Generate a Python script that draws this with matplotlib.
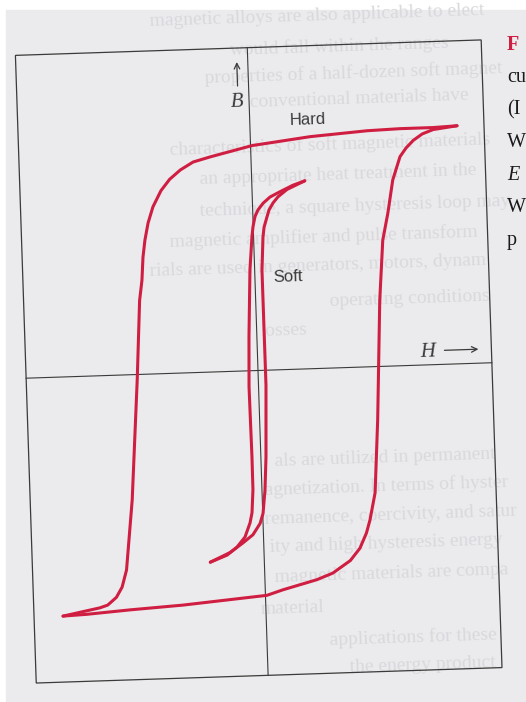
import matplotlib
matplotlib.use("Agg")
import matplotlib.pyplot as plt
from matplotlib.patches import Rectangle
from matplotlib.transforms import Affine2D

# Lazos de histéresis B-H (unidades arbitrarias, origen en el cruce de ejes)
# Material duro: rama descendente (desde +saturación) y rama ascendente
HARD_DOWN_H = [207, 183, 150, 117, 60, 1.5, -41, -58, -71, -82, -91, -99.6,
               -105, -108.7, -111.2, -113, -116, -121, -130, -138, -143,
               -149, -158, -166, -203]
HARD_DOWN_B = [238, 237, 237, 236, 232, 225, 215, 210.5, 203, 194, 183, 167,
               151, 134, 117, 94, 74, -5, -125, -195, -212, -222, -229.5,
               -232, -239]
HARD_UP_H = [-203, -179, -136, -83, 1.5, 17.7, 52, 68, 86, 96, 103, 107,
             113, 118, 124, 129, 135, 141, 149, 155.4, 163, 172, 183, 207]
HARD_UP_B = [-239, -238, -235, -232, -225, -220, -211, -205, -193, -181,
             -166, -153, -126, -53, 66, 126, 153, 186, 209, 217.6, 225, 231,
             235, 238]

# Material blando
SOFT_DOWN_H = [53, 41, 28, 17.8, 10.6, 5.3, 2.1, -0.2, -1.6, -4.7, -7.9,
               -9.5, -8.9, -9, -10.7, -13, -18.5, -27, -37, -54]
SOFT_DOWN_B = [188, 184, 178, 173, 167, 160.5, 154, 144, 134, 101, 34, -16,
               -86, -119, -142, -152, -166, -176, -183.5, -190]
SOFT_UP_H = [-54, -34, -21, -10.5, -3, 0.3, 3, 5.1, 7.5, 7.3, 9.4, 10.8,
             14, 16.3, 20.6, 25.8, 35, 53]
SOFT_UP_B = [-190, -181, -172, -164, -153, -143, -120, -87, -15, 100, 133,
             143, 153, 160, 167, 173, 180, 188]

# Marco y ejes
BOX_H = [-232, 234]
BOX_B = [-305, 323]

# Texto del pie de figura (cortado en el margen derecho)
CAPTION = ["F", "cu", "(I", "W", "E", "W", "p"]

# Texto tenue de la página posterior: (x, y, texto)
BACK_TEXT = [
    (150, 22, "magnetic alloys are also applicable to elect"),
    (230, 50, "would fall within the ranges"),
    (205, 78, "properties of a half-dozen soft magnet"),
    (250, 103, "conventional materials have"),
    (170, 150, "characteristics of soft magnetic materials"),
    (200, 180, "an appropriate heat treatment in the"),
    (200, 212, "technique, a square hysteresis loop may"),
    (170, 242, "magnetic amplifier and pulse transform"),
    (150, 272, "rials are used in generators, motors, dynam"),
    (330, 302, "operating conditions"),
    (260, 332, "losses"),
    (275, 462, "als are utilized in permanent"),
    (265, 490, "agnetization. In terms of hyster"),
    (265, 520, "remanence, coercivity, and satur"),
    (270, 548, "ity and high hysteresis energy"),
    (275, 578, "magnetic materials are compa"),
    (260, 610, "material"),
    (330, 640, "applications for these"),
    (350, 668, "the energy product"),
]

RED = "#d01e42"
INK = "#3a3a3a"
TILT = 1.9

fig = plt.figure(figsize=(5.26, 7.02), dpi=100, facecolor="white")
ax = fig.add_axes([0, 0, 1, 1])
ax.set_xlim(0, 526)
ax.set_ylim(0, 702)
ax.axis("off")

# papel
ax.add_patch(Rectangle((6, 0), 520, 692, color="#ebebed", zorder=0))

for x, y, s in BACK_TEXT:
    ax.text(x, 702 - y, s, family="Liberation Serif", fontsize=14,
            color="#d9d9dd", va="center", ha="left", rotation=TILT,
            rotation_mode="anchor", zorder=1)

# sistema del diagrama, ligeramente girado
tr = Affine2D().rotate_deg(TILT).translate(258, 331.5) + ax.transData

ax.add_patch(Rectangle((BOX_H[0], BOX_B[0]), BOX_H[1] - BOX_H[0],
                       BOX_B[1] - BOX_B[0], fill=False, ec=INK, lw=0.9,
                       transform=tr, zorder=2))
ax.plot([0, 0], BOX_B, color=INK, lw=0.8, transform=tr, zorder=2)
ax.plot(BOX_H, [0, 0], color=INK, lw=0.8, transform=tr, zorder=2)

for hs, bs in [(HARD_DOWN_H, HARD_DOWN_B), (HARD_UP_H, HARD_UP_B),
               (SOFT_DOWN_H, SOFT_DOWN_B), (SOFT_UP_H, SOFT_UP_B)]:
    ax.plot(hs, bs, color=RED, lw=2.2, transform=tr, zorder=3,
            solid_joinstyle="round", solid_capstyle="round")

# flechas y rótulos de los ejes
arrow = dict(arrowstyle="->", color=INK, lw=0.9, shrinkA=0, shrinkB=0)
ax.annotate("", xy=(-11, 309), xytext=(-11, 285), xycoords=tr,
            textcoords=tr, arrowprops=arrow, zorder=4)
ax.annotate("", xy=(221, 14), xytext=(187, 14), xycoords=tr,
            textcoords=tr, arrowprops=arrow, zorder=4)
ax.text(-12, 269, "B", transform=tr, family="Liberation Serif",
        style="italic", fontsize=15, color=INK, ha="center", va="center",
        rotation=TILT)
ax.text(170, 13, "H", transform=tr, family="Liberation Serif",
        style="italic", fontsize=15, color=INK, ha="center", va="center",
        rotation=TILT)

ax.text(58, 249, "Hard", transform=tr, family="Liberation Sans",
        fontsize=12, color=INK, ha="center", va="center", rotation=TILT)
ax.text(33, 92, "Soft", transform=tr, family="Liberation Sans",
        fontsize=12, color=INK, ha="center", va="center", rotation=TILT)

# pie de figura
for i, s in enumerate(CAPTION):
    kw = dict(family="Liberation Serif", fontsize=14.5, color="#1a1a1a",
              ha="left", va="center")
    if i == 0:
        kw.update(color=RED, weight="bold")
    if i == 4:
        kw.update(style="italic")
    ax.text(507, 702 - (45 + 32.5 * i), s, **kw)

fig.savefig("out.png", dpi=100, facecolor="white")
